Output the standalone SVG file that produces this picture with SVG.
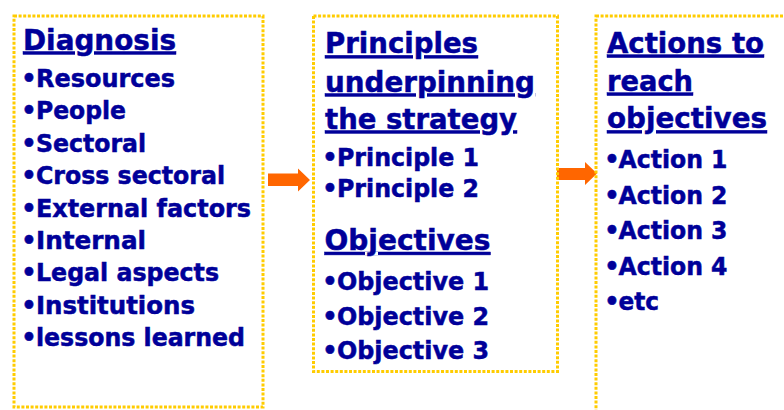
<svg xmlns="http://www.w3.org/2000/svg" width="784" height="410" viewBox="0 0 784 410">
<style>
.box{fill:none;stroke:#FFCC00;stroke-width:3;stroke-dasharray:3 1.6}
text{font-family:"DejaVu Sans","Liberation Sans",sans-serif;font-weight:bold;fill:#000099;stroke:#000099;stroke-width:0.5}
.h{font-size:29px;text-decoration:underline}
.b{font-size:24px}
.d{text-anchor:middle}
.w{text-anchor:start}
.arrow{fill:#FF6600}
</style>
<rect width="784" height="410" fill="#FFFFFF"/>
<g id="connectors">
<polygon class="arrow" points="268,173.5 298,173.5 298,168.5 310,180 298,191.5 298,186 268,186"/>
<polygon class="arrow" points="557,168 585,168 585,162 597,173.5 585,185 585,180 557,180"/>
</g>
<g id="diagnosis">
<rect class="box" x="14" y="16" width="249" height="391"/>
<text class="h" x="23" y="49.5" textLength="153" lengthAdjust="spacingAndGlyphs">Diagnosis</text>
<text class="b" y="87"><tspan class="d" x="29">•</tspan><tspan class="w" x="36" textLength="139" lengthAdjust="spacingAndGlyphs">Resources</tspan></text>
<text class="b" y="119.4"><tspan class="d" x="29">•</tspan><tspan class="w" x="36" textLength="90" lengthAdjust="spacingAndGlyphs">People</tspan></text>
<text class="b" y="151.8"><tspan class="d" x="29">•</tspan><tspan class="w" x="36" textLength="110" lengthAdjust="spacingAndGlyphs">Sectoral</tspan></text>
<text class="b" y="184.2"><tspan class="d" x="29">•</tspan><tspan class="w" x="36" textLength="189" lengthAdjust="spacingAndGlyphs">Cross sectoral</tspan></text>
<text class="b" y="216.6"><tspan class="d" x="29">•</tspan><tspan class="w" x="36" textLength="215" lengthAdjust="spacingAndGlyphs">External factors</tspan></text>
<text class="b" y="249"><tspan class="d" x="29">•</tspan><tspan class="w" x="36" textLength="110" lengthAdjust="spacingAndGlyphs">Internal</tspan></text>
<text class="b" y="281.4"><tspan class="d" x="29">•</tspan><tspan class="w" x="36" textLength="183" lengthAdjust="spacingAndGlyphs">Legal aspects</tspan></text>
<text class="b" y="313.8"><tspan class="d" x="29">•</tspan><tspan class="w" x="36" textLength="159" lengthAdjust="spacingAndGlyphs">Institutions</tspan></text>
<text class="b" y="346.2"><tspan class="d" x="29">•</tspan><tspan class="w" x="36" textLength="209" lengthAdjust="spacingAndGlyphs">lessons learned</tspan></text>
</g>
<g id="principles">
<rect class="box" x="313.5" y="16" width="244" height="355.5"/>
<text class="h" x="325" y="53.3" textLength="153" lengthAdjust="spacingAndGlyphs">Principles</text>
<text class="h" x="325" y="91.5" textLength="210" lengthAdjust="spacingAndGlyphs">underpinning</text>
<text class="h" x="325" y="128.5" textLength="192" lengthAdjust="spacingAndGlyphs">the strategy</text>
<text class="b" y="165.7"><tspan class="d" x="330">•</tspan><tspan class="w" x="337" textLength="142" lengthAdjust="spacingAndGlyphs">Principle 1</tspan></text>
<text class="b" y="197"><tspan class="d" x="330">•</tspan><tspan class="w" x="337" textLength="142" lengthAdjust="spacingAndGlyphs">Principle 2</tspan></text>
<text class="h" x="324.5" y="250" textLength="166" lengthAdjust="spacingAndGlyphs">Objectives</text>
<text class="b" y="289.5"><tspan class="d" x="330">•</tspan><tspan class="w" x="337" textLength="152" lengthAdjust="spacingAndGlyphs">Objective 1</tspan></text>
<text class="b" y="325"><tspan class="d" x="330">•</tspan><tspan class="w" x="337" textLength="152" lengthAdjust="spacingAndGlyphs">Objective 2</tspan></text>
<text class="b" y="359"><tspan class="d" x="330">•</tspan><tspan class="w" x="337" textLength="152" lengthAdjust="spacingAndGlyphs">Objective 3</tspan></text>
</g>
<g id="actions">
<rect class="box" x="596" y="16" width="220" height="420"/>
<text class="h" x="607" y="52.7" textLength="157" lengthAdjust="spacingAndGlyphs">Actions to</text>
<text class="h" x="607" y="90.7" textLength="86" lengthAdjust="spacingAndGlyphs">reach</text>
<text class="h" x="607" y="128.3" textLength="160" lengthAdjust="spacingAndGlyphs">objectives</text>
<text class="b" y="168.3"><tspan class="d" x="612">•</tspan><tspan class="w" x="618.5" textLength="109" lengthAdjust="spacingAndGlyphs">Action 1</tspan></text>
<text class="b" y="203.5"><tspan class="d" x="612">•</tspan><tspan class="w" x="618.5" textLength="109" lengthAdjust="spacingAndGlyphs">Action 2</tspan></text>
<text class="b" y="239"><tspan class="d" x="612">•</tspan><tspan class="w" x="618.5" textLength="109" lengthAdjust="spacingAndGlyphs">Action 3</tspan></text>
<text class="b" y="275"><tspan class="d" x="612">•</tspan><tspan class="w" x="618.5" textLength="109" lengthAdjust="spacingAndGlyphs">Action 4</tspan></text>
<text class="b" y="310"><tspan class="d" x="612">•</tspan><tspan class="w" x="618.5" textLength="40.5" lengthAdjust="spacingAndGlyphs">etc</tspan></text>
</g>
</svg>
